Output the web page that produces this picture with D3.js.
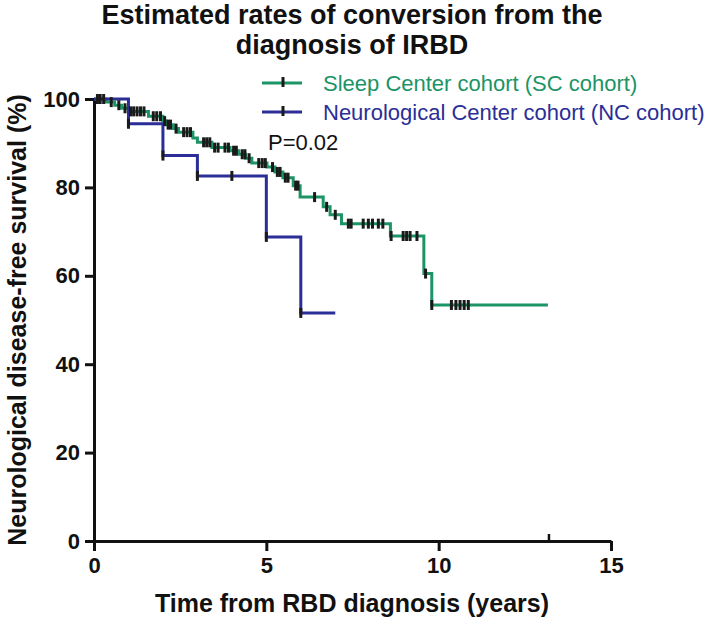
<!DOCTYPE html>
<html>
<head>
<meta charset="utf-8">
<script src="https://cdn.jsdelivr.net/npm/d3@7"></script>
<style>
  html, body { margin: 0; padding: 0; background: #fff; }
  svg { display: block; }
  text { font-family: "Liberation Sans", Arial, sans-serif; }
</style>
</head>
<body>
<svg id="chart" width="709" height="626"></svg>
<script>
// ---------- data ----------
const titleLines = ["Estimated rates of conversion from the", "diagnosis of IRBD"];
const xTitle = "Time from RBD diagnosis (years)";
const yTitle = "Neurological disease-free survival (%)";
const xTicks = [0, 5, 10, 15];
const yTicks = [0, 20, 40, 60, 80, 100];
const seriesNames = ["Sleep Center cohort (SC cohort)", "Neurological Center cohort (NC cohort)"];
const pValueLabel = "P=0.02";

// Sleep Center cohort: step times (years) and survival (%) after each step
const scTimes  = [0, 0.35, 0.6, 0.8, 1.0, 1.58, 2.0, 2.1, 2.3, 2.45, 2.87, 3.0, 3.42, 3.95, 4.2, 4.4, 4.58, 5.02, 5.25, 5.48, 5.78, 5.98, 6.65, 6.85, 7.18, 8.6, 9.57, 9.8];
const scValues = [100, 99.3, 98.6, 97.9, 97.2, 96.1, 95.0, 94.2, 93.3, 92.5, 91.2, 90.2, 89.0, 88.3, 87.5, 86.6, 85.5, 84.6, 83.5, 82.2, 80.4, 77.8, 75.6, 73.8, 71.8, 69.0, 60.5, 53.4];
const scEnd = 13.17;
const scCensored = [0.1, 0.18, 0.28, 0.5, 0.72, 0.9, 1.06, 1.15, 1.25, 1.35, 1.45, 1.72, 1.82, 1.93, 2.05, 2.15, 2.22, 2.38, 2.6, 2.7, 2.8, 3.18, 3.27, 3.36, 3.5, 3.6, 3.8, 3.9, 4.05, 4.13, 4.3, 4.38, 4.5, 4.78, 4.88, 4.97, 5.18, 5.32, 5.4, 5.55, 5.63, 5.85, 5.92, 6.4, 6.75, 7.0, 7.38, 7.46, 7.81, 7.96, 8.08, 8.25, 8.38, 8.62, 8.97, 9.07, 9.17, 9.37, 9.62, 9.8, 10.37, 10.5, 10.62, 10.74, 10.86];

// Neurological Center cohort
const ncTimes  = [0, 1, 2, 3, 5, 6];
const ncValues = [100, 94.4, 87.2, 82.6, 68.8, 51.6];
const ncEnd = 7.0;
const ncCensored = [1, 2, 3, 4, 5, 6];

const axisMarkTimes = [13.2];

// ---------- layout ----------
const colors = { sc: "#1c9466", nc: "#2b2e97", censor: "#1a1a1a", axis: "#111" };
const svg = d3.select("#chart");
const x = d3.scaleLinear().domain([0, 15]).range([94, 611]);
const y = d3.scaleLinear().domain([0, 100]).range([541, 99]);

function survAt(times, values, t) {
  let v = values[0];
  for (let i = 0; i < times.length; i++) if (times[i] <= t + 1e-9) v = values[i];
  return v;
}
function stepPoints(times, values, end) {
  const pts = times.map((t, i) => [t, values[i]]);
  pts.push([end, values[values.length - 1]]);
  return pts;
}
const line = d3.line().x(d => x(d[0])).y(d => y(d[1])).curve(d3.curveStepAfter);

// axes
const xAxis = svg.append("g").attr("transform", `translate(0,${y(0)})`)
  .call(d3.axisBottom(x).tickValues(xTicks).tickSize(10).tickPadding(6).tickSizeOuter(0));
const yAxis = svg.append("g").attr("transform", `translate(${x(0)},0)`)
  .call(d3.axisLeft(y).tickValues(yTicks).tickSize(9).tickPadding(5).tickSizeOuter(0));
[xAxis, yAxis].forEach(g => {
  g.select(".domain").attr("stroke", colors.axis).attr("stroke-width", 3);
  g.selectAll(".tick line").attr("stroke", colors.axis).attr("stroke-width", 3);
  g.selectAll(".tick text").attr("fill", "#111").style("font-size", "22px").style("font-weight", "bold")
    .style("font-family", '"Liberation Sans", Arial, sans-serif');
});

// small axis marks
svg.append("g").selectAll("line").data(axisMarkTimes).join("line")
  .attr("x1", d => x(d)).attr("x2", d => x(d))
  .attr("y1", y(0)).attr("y2", y(0) - 7)
  .attr("stroke", colors.axis).attr("stroke-width", 2.5);

// curves
svg.append("path").datum(stepPoints(scTimes, scValues, scEnd))
  .attr("d", line).attr("fill", "none").attr("stroke", colors.sc).attr("stroke-width", 3);
svg.append("path").datum(stepPoints(ncTimes, ncValues, ncEnd))
  .attr("d", line).attr("fill", "none").attr("stroke", colors.nc).attr("stroke-width", 3);

// censor marks
function censor(times, tvals, vvals) {
  svg.append("g").selectAll("line").data(times).join("line")
    .attr("x1", d => x(d)).attr("x2", d => x(d))
    .attr("y1", d => y(survAt(tvals, vvals, d)) - 5)
    .attr("y2", d => y(survAt(tvals, vvals, d)) + 5)
    .attr("stroke", colors.censor).attr("stroke-width", 3);
}
censor(scCensored, scTimes, scValues);
censor(ncCensored, ncTimes, ncValues);

// title
svg.append("g").selectAll("text").data(titleLines).join("text")
  .attr("x", 352).attr("y", (d, i) => 24 + i * 30)
  .attr("text-anchor", "middle").style("font-size", "27px").style("font-weight", "bold")
  .attr("fill", "#111").text(d => d);

// axis titles
svg.append("text").attr("x", 352).attr("y", 612).attr("text-anchor", "middle")
  .style("font-size", "25px").style("font-weight", "bold").attr("fill", "#111").text(xTitle);
svg.append("text").attr("transform", `translate(26,${(y(0) + y(100)) / 2}) rotate(-90)`)
  .attr("text-anchor", "middle").style("font-size", "25px").style("font-weight", "bold")
  .attr("fill", "#111").text(yTitle);

// legend
const legColors = [colors.sc, colors.nc];
const leg = svg.append("g").selectAll("g").data(seriesNames).join("g")
  .attr("transform", (d, i) => `translate(0,${83 + i * 29})`);
leg.append("line").attr("x1", 262).attr("x2", 302).attr("y1", 0).attr("y2", 0)
  .attr("stroke", (d, i) => legColors[i]).attr("stroke-width", 3);
leg.append("line").attr("x1", 283).attr("x2", 283).attr("y1", -6).attr("y2", 4)
  .attr("stroke", colors.censor).attr("stroke-width", 3);
leg.append("text").attr("x", 323).attr("y", 8).style("font-size", "22px")
  .attr("fill", (d, i) => legColors[i]).text(d => d);

// p-value
svg.append("text").attr("x", 268).attr("y", 150).style("font-size", "22px").attr("fill", "#111").text(pValueLabel);
</script>
</body>
</html>
